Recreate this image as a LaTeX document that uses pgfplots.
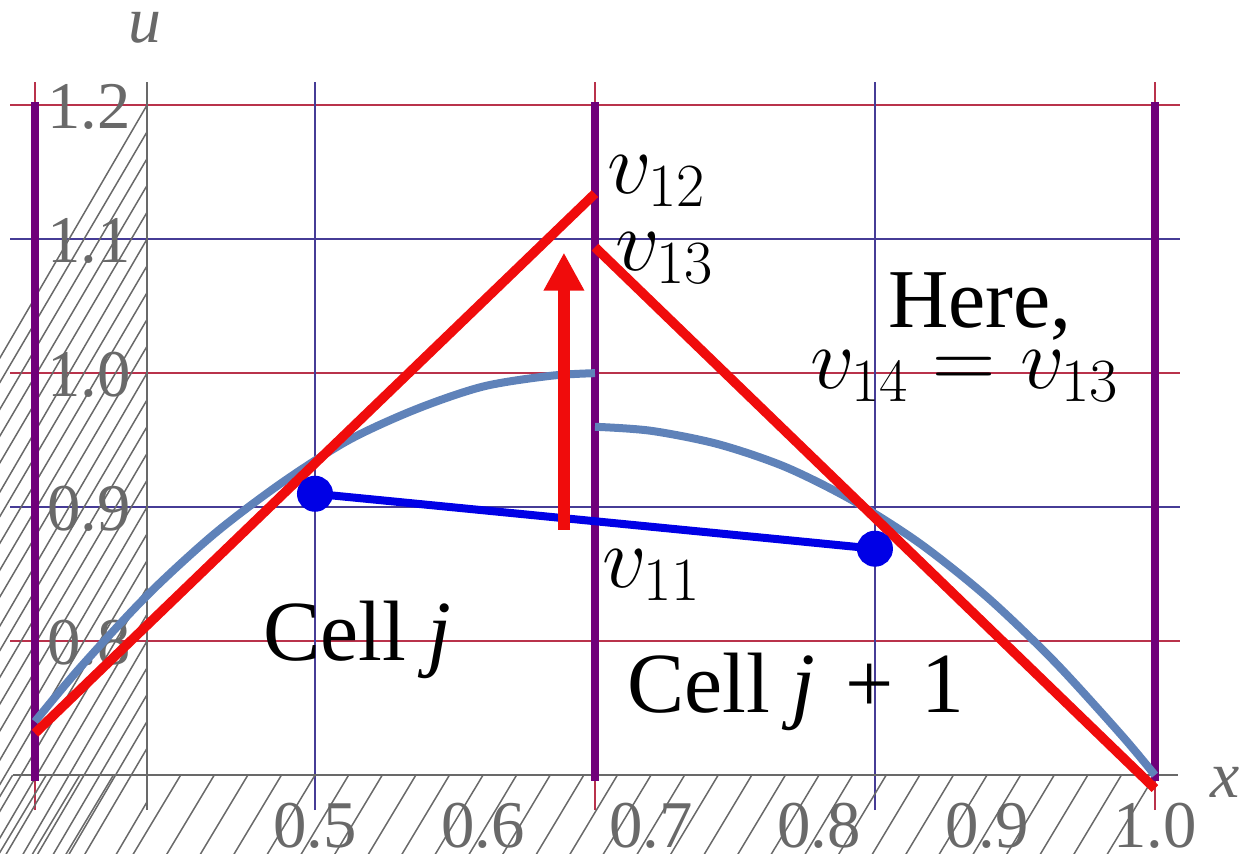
\documentclass[border=0pt]{standalone}
\usepackage{fix-cm}
\usepackage{fontspec}
\setmainfont{Liberation Serif}
\usepackage{pgfplots}
\pgfplotsset{compat=1.18}
\usetikzlibrary{arrows.meta}

\definecolor{cellpurple}{RGB}{112,0,122}
\definecolor{curveblue}{RGB}{95,130,185}
\definecolor{recred}{RGB}{240,12,12}
\definecolor{avgblue}{RGB}{0,0,230}
\definecolor{gridred}{RGB}{185,50,75}
\definecolor{gridblue}{RGB}{70,60,150}
\definecolor{axisgray}{RGB}{105,105,105}

% exact solution pieces in cell j and cell j+1
\pgfplotstableread{
x      u
0.33333 0.740
0.36   0.780
0.40   0.834
0.44   0.880
0.48   0.918
0.52   0.950
0.56   0.973
0.60   0.990
0.64   0.998
0.66667 1.000
}\leftcell
\pgfplotstableread{
x      u
0.66667 0.960
0.70   0.957
0.74   0.947
0.78   0.930
0.82   0.905
0.86   0.873
0.90   0.833
0.94   0.785
0.98   0.730
1.00   0.700
}\rightcell

\begin{document}
\begin{tikzpicture}
\useasboundingbox (0,0) rectangle (1240bp,854bp);
\begin{axis}[
  at={(12.6bp,44bp)}, anchor=south west,
  scale only axis, width=1165.4bp, height=728bp,
  xmin=0.32, xmax=1.01369, ymin=0.674, ymax=1.21728,
  hide axis, clip=false,
]
% grid lines
\pgfplotsinvokeforeach{0.8,1.0,1.2}{
  \draw[gridred, line width=1.6bp] (axis cs:0.3185,#1) -- (axis cs:1.015,#1);}
\pgfplotsinvokeforeach{0.9,1.1}{
  \draw[gridblue, line width=1.6bp] (axis cs:0.3185,#1) -- (axis cs:1.015,#1);}
\pgfplotsinvokeforeach{0.33333,0.66667,1.0}{
  \draw[gridred, line width=1.6bp] (axis cs:#1,0.674) -- (axis cs:#1,1.2173);}
\pgfplotsinvokeforeach{0.5,0.83333}{
  \draw[gridblue, line width=1.6bp] (axis cs:#1,0.674) -- (axis cs:#1,1.2173);}

% axes crossing at (0.4, 0.7)
\draw[axisgray, line width=1.8bp] (axis cs:0.32,0.7) -- (axis cs:1.0137,0.7);
\draw[axisgray, line width=1.8bp] (axis cs:0.4,0.674) -- (axis cs:0.4,1.2173);
\pgfplotsinvokeforeach{0.32,0.34,0.36,0.38,0.42,0.44,0.46,0.48,0.52,0.54,0.56,0.58,0.62,0.64,0.66,0.68,0.72,0.74,0.76,0.78,0.82,0.84,0.86,0.88,0.92,0.94,0.96,0.98}{
  \draw[axisgray, line width=1.5bp] (axis cs:#1,0.7) -- ++(0,7bp);}
\pgfplotsinvokeforeach{0.5,0.6,0.7,0.8,0.9,1.0}{
  \draw[axisgray, line width=1.5bp] (axis cs:#1,0.7) -- ++(0,12bp);
  \node[anchor=base, inner sep=0, text=axisgray, font=\fontsize{67}{75}\selectfont,
        yshift=-72bp] at (axis cs:#1,0.7) {#1};}
\pgfplotsinvokeforeach{0.68,0.72,0.74,0.76,0.78,0.82,0.84,0.86,0.88,0.92,0.94,0.96,0.98,1.02,1.04,1.06,1.08,1.12,1.14,1.16,1.18}{
  \draw[axisgray, line width=1.5bp] (axis cs:0.4,#1) -- ++(7bp,0);}
\pgfplotsinvokeforeach{0.8,0.9,1.0,1.1,1.2}{
  \draw[axisgray, line width=1.5bp] (axis cs:0.4,#1) -- ++(12bp,0);
  \node[anchor=base east, inner sep=0, text=axisgray, font=\fontsize{67}{75}\selectfont,
        xshift=-16bp, yshift=-23bp] at (axis cs:0.4,#1) {#1};}
\node[anchor=base, inner sep=0, text=axisgray, font=\fontsize{66}{70}\selectfont\itshape]
  at (axis cs:0.3988,1.247) {u};
\node[anchor=base west, inner sep=0, text=axisgray, font=\fontsize{66}{70}\selectfont\itshape]
  at (axis cs:1.0327,0.6836) {x};

% cell interfaces
\pgfplotsinvokeforeach{0.33333,0.66667,1.0}{
  \draw[cellpurple, line width=8bp] (axis cs:#1,0.696) -- (axis cs:#1,1.202);}

% exact solution
\addplot[curveblue, line width=8bp, smooth] table[x=x, y=u] {\leftcell};
\addplot[curveblue, line width=8bp, smooth] table[x=x, y=u] {\rightcell};

% reconstructed slopes
\addplot[recred, line width=9.5bp] coordinates {(0.33333,0.7313) (0.66667,1.134)};
\addplot[recred, line width=9.5bp] coordinates {(0.66667,1.094) (1.0,0.690)};

% cell averages
\addplot[avgblue, line width=8bp, mark=*, mark size=14bp,
         mark options={fill=avgblue, draw=none}]
  coordinates {(0.5,0.910) (0.83333,0.869)};

% update arrow
\draw[recred, line width=12bp, -{Triangle[width=38bp,length=38bp]}]
  (axis cs:0.6482,0.883) -- (axis cs:0.6482,1.090);

% annotations
\node[anchor=base west, inner sep=0, font=\fontsize{88}{96}\selectfont]
  at (axis cs:0.6738,1.1343) {$v_{12}$};
\node[anchor=base west, inner sep=0, font=\fontsize{88}{96}\selectfont]
  at (axis cs:0.6786,1.0769) {$v_{13}$};
\node[anchor=base west, inner sep=0, font=\fontsize{88}{96}\selectfont]
  at (axis cs:0.6708,0.8403) {$v_{11}$};
\node[anchor=base west, inner sep=0, font=\fontsize{86}{96}\selectfont]
  at (axis cs:0.4690,0.7858) {Cell \textit{j}};
\node[anchor=base west, inner sep=0, font=\fontsize{86}{96}\selectfont]
  at (axis cs:0.6857,0.7470) {Cell \textit{j}\hspace{0.35em}+\hspace{0.33em}1};
\node[anchor=base west, inner sep=0, font=\fontsize{84}{96}\selectfont]
  at (axis cs:0.8411,1.0343) {Here,};
\node[anchor=base west, inner sep=0, font=\fontsize{88}{96}\selectfont]
  at (axis cs:0.7946,0.9888) {$v_{14} = v_{13}$};
\end{axis}
\end{tikzpicture}
\end{document}
